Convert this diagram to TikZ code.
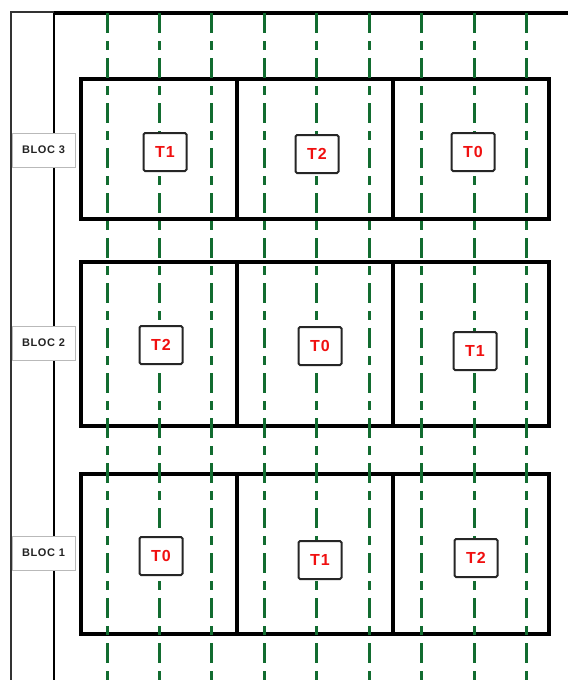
\documentclass[tikz,border=0pt]{standalone}
\usepackage{fontspec}
\setmainfont{Liberation Sans}
\definecolor{railgreen}{RGB}{18,108,48}
\definecolor{tagred}{RGB}{240,16,16}
\definecolor{labelgray}{RGB}{35,35,35}
\definecolor{boxedge}{RGB}{185,185,185}
\tikzset{
  cell/.style={draw=black, line width=3.3pt, minimum width=156pt, inner sep=0pt},
  rail/.style={draw=railgreen, line width=3pt, dash pattern=on 20pt off 8pt on 9pt off 8pt},
  tag/.style={draw=black!85, line width=2pt, fill=white, rounded corners=1.5pt,
    minimum width=43pt, minimum height=38pt, inner sep=0pt,
    text=tagred, font=\fontsize{16}{16}\selectfont\bfseries\addfontfeature{LetterSpace=6}},
  bloclabel/.style={draw=boxedge, line width=1pt, fill=white,
    minimum width=63pt, minimum height=34pt, inner sep=0pt,
    text=labelgray, font=\fontsize{11}{11}\selectfont\bfseries\addfontfeature{LetterSpace=6}},
}
\begin{document}
\begin{tikzpicture}[x=1pt,y=-1pt]
\useasboundingbox (0,0) rectangle (568,680);
\fill[white] (0,0) rectangle (568,680);

% frame of the hall
\draw[black!80, line width=1.4pt] (11,680) -- (11,12) -- (54,12);
\draw[black, line width=3.3pt] (54,13) -- (568,13);
\draw[black, line width=2.2pt] (54,13) -- (54,680);

% block cells
\foreach \r/\cy/\h in {3/149/140, 2/344/164, 1/554/160}{
  \foreach \c/\cx in {1/159, 2/315, 3/471}{
    \node[cell, minimum height=\h pt] (c\r\c) at (\cx,\cy) {};
  }
}

% vertical rails
\foreach \i/\x in {1/107,2/159,3/211,4/264,5/316,6/369,7/421,8/474,9/526}{
  \coordinate (rt\i) at (\x,13);
  \coordinate (rb\i) at (\x,680);
  \draw[rail] (rt\i) -- (rb\i);
}

% tags
\node[tag] (b3t1) at (165,152) {T1};
\node[tag] (b3t2) at (317,154) {T2};
\node[tag] (b3t0) at (473,152) {T0};
\node[tag] (b2t2) at (161,345) {T2};
\node[tag] (b2t0) at (320,346) {T0};
\node[tag] (b2t1) at (475,351) {T1};
\node[tag] (b1t0) at (161,556) {T0};
\node[tag] (b1t1) at (320,560) {T1};
\node[tag] (b1t2) at (476,558) {T2};

% block labels
\node[bloclabel] (bloc3) at (43.5,150) {BLOC 3};
\node[bloclabel] (bloc2) at (43.5,343) {BLOC 2};
\node[bloclabel] (bloc1) at (43.5,553) {BLOC 1};
\end{tikzpicture}
\end{document}
